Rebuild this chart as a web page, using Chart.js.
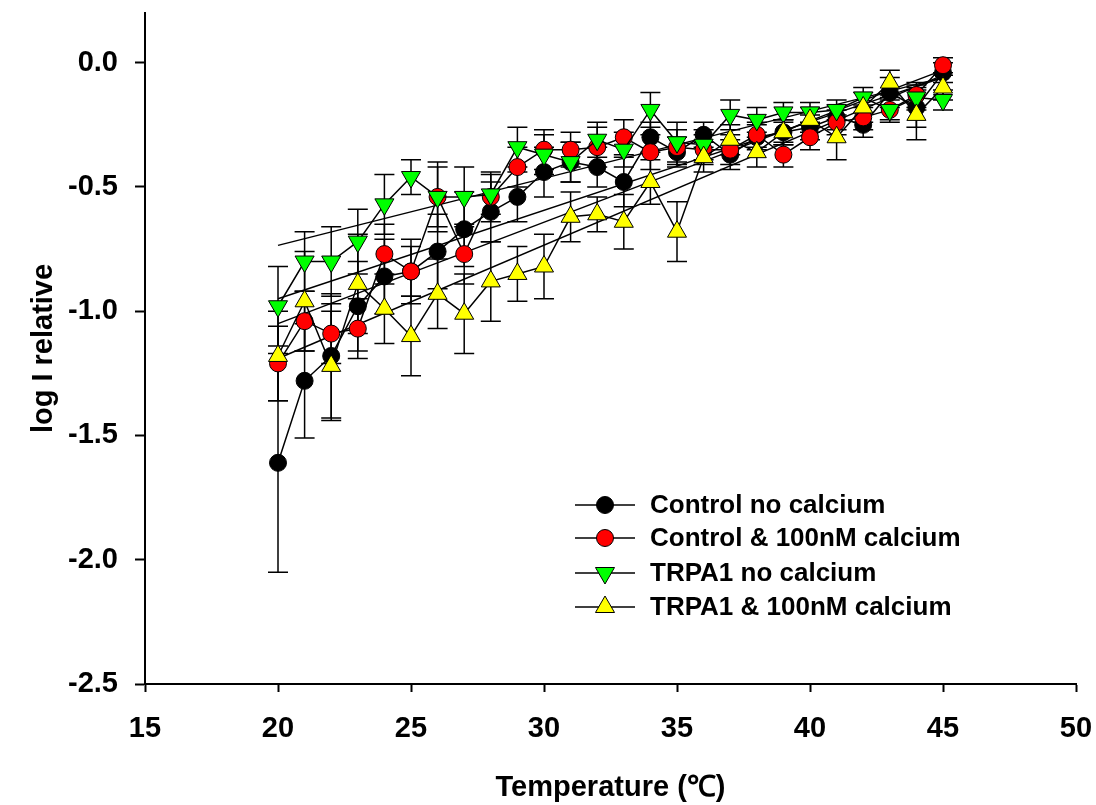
<!DOCTYPE html>
<html>
<head>
<meta charset="utf-8">
<script src="https://cdn.jsdelivr.net/npm/chart.js@4.4.1/dist/chart.umd.min.js"></script>
<style>
  html, body { margin: 0; padding: 0; background: #fff; }
  canvas { display: block; }
</style>
</head>
<body>
<canvas id="tempChart" width="1096" height="805"></canvas>
<script>
// Data
const temps = [20, 21, 22, 23, 24, 25, 26, 27, 28, 29, 30, 31, 32, 33, 34, 35, 36, 37, 38, 39, 40, 41, 42, 43, 44, 45];

const controlNoCa    = [-1.61, -1.28, -1.18, -0.98, -0.86, -0.84, -0.76, -0.67, -0.60, -0.54, -0.44, -0.40, -0.42, -0.48, -0.30, -0.36, -0.29, -0.37, -0.30, -0.28, -0.26, -0.22, -0.25, -0.12, -0.18, -0.04];
const controlNoCaErr = [0.44, 0.23, 0.25, 0.18, 0.15, 0.13, 0.15, 0.15, 0.12, 0.10, 0.10, 0.08, 0.08, 0.10, 0.06, 0.06, 0.05, 0.06, 0.05, 0.05, 0.05, 0.05, 0.05, 0.06, 0.08, 0.04];

const controlCa      = [-1.21, -1.04, -1.09, -1.07, -0.77, -0.84, -0.54, -0.77, -0.54, -0.42, -0.35, -0.35, -0.34, -0.30, -0.36, -0.34, -0.35, -0.35, -0.29, -0.37, -0.30, -0.24, -0.22, -0.19, -0.13, -0.01];
const controlCaErr   = [0.15, 0.12, 0.12, 0.12, 0.12, 0.10, 0.12, 0.12, 0.10, 0.08, 0.08, 0.07, 0.08, 0.07, 0.07, 0.07, 0.06, 0.06, 0.05, 0.05, 0.05, 0.05, 0.05, 0.05, 0.05, 0.03];

const trpa1NoCa      = [-0.98, -0.80, -0.80, -0.72, -0.57, -0.46, -0.54, -0.54, -0.53, -0.34, -0.37, -0.40, -0.31, -0.35, -0.19, -0.32, -0.33, -0.21, -0.23, -0.20, -0.20, -0.19, -0.14, -0.19, -0.14, -0.15];
const trpa1NoCaErr   = [0.16, 0.12, 0.14, 0.13, 0.12, 0.07, 0.14, 0.12, 0.08, 0.08, 0.08, 0.08, 0.07, 0.07, 0.07, 0.08, 0.06, 0.06, 0.05, 0.04, 0.04, 0.04, 0.04, 0.04, 0.05, 0.04];

const trpa1Ca        = [-1.18, -0.96, -1.22, -0.89, -0.99, -1.10, -0.93, -1.01, -0.88, -0.85, -0.82, -0.62, -0.61, -0.64, -0.48, -0.68, -0.38, -0.31, -0.36, -0.28, -0.23, -0.30, -0.18, -0.08, -0.21, -0.10];
const trpa1CaErr     = [0.18, 0.20, 0.22, 0.20, 0.14, 0.16, 0.14, 0.16, 0.16, 0.11, 0.13, 0.10, 0.07, 0.11, 0.09, 0.12, 0.06, 0.06, 0.06, 0.05, 0.05, 0.09, 0.06, 0.05, 0.10, 0.05];

// Linear regression lines (end points)
const fitX              = [20, 45];
const fitControlNoCa    = [-1.05, -0.03];
const fitControlCa      = [-0.95, -0.06];
const fitTrpa1NoCa      = [-0.735, -0.06];
const fitTrpa1Ca        = [-1.19, -0.05];

const seriesLabels = ['Control no calcium', 'Control & 100nM calcium', 'TRPA1 no calcium', 'TRPA1 & 100nM calcium'];
const xTicks = [15, 20, 25, 30, 35, 40, 45, 50];
const yTicks = [-2.5, -2.0, -1.5, -1.0, -0.5, 0.0];

const FONT = 'Liberation Sans, Arial, Helvetica, sans-serif';

function toPoints(xs, ys) {
    return xs.map((x, i) => ({ x: x, y: ys[i] }));
}

function seriesDataset(label, values, errors, fill, style, rotation, radius, order) {
    return {
        label: label,
        data: toPoints(temps, values),
        errors: errors,
        showLine: true,
        borderColor: '#000',
        borderWidth: 1.5,
        pointStyle: style,
        pointRotation: rotation,
        pointRadius: radius,
        pointBackgroundColor: fill,
        pointBorderColor: '#000',
        pointBorderWidth: 1,
        order: order
    };
}

function fitDataset(values) {
    return {
        label: 'fit',
        data: toPoints(fitX, values),
        showLine: true,
        borderColor: '#000',
        borderWidth: 1.5,
        pointRadius: 0,
        isFit: true,
        order: 10
    };
}

const datasets = [
    seriesDataset(seriesLabels[0], controlNoCa, controlNoCaErr, '#000000', 'circle', 0, 8.5, 4),
    seriesDataset(seriesLabels[1], controlCa, controlCaErr, '#ff0000', 'circle', 0, 8.5, 3),
    seriesDataset(seriesLabels[2], trpa1NoCa, trpa1NoCaErr, '#00ff00', 'triangle', 180, 11, 2),
    seriesDataset(seriesLabels[3], trpa1Ca, trpa1CaErr, '#ffff00', 'triangle', 0, 11, 1),
    fitDataset(fitControlNoCa),
    fitDataset(fitControlCa),
    fitDataset(fitTrpa1NoCa),
    fitDataset(fitTrpa1Ca)
];

// Vertical error bars with caps
const errorBarPlugin = {
    id: 'errorBars',
    beforeDatasetsDraw(chart) {
        const ctx = chart.ctx;
        const xs = chart.scales.x, ys = chart.scales.y;
        const capHalf = 10;
        ctx.save();
        ctx.strokeStyle = '#000';
        ctx.lineWidth = 1.5;
        chart.data.datasets.forEach(ds => {
            if (!ds.errors) return;
            ds.data.forEach((p, i) => {
                const e = ds.errors[i];
                const px = xs.getPixelForValue(p.x);
                const top = ys.getPixelForValue(p.y + e);
                const bot = ys.getPixelForValue(p.y - e);
                ctx.beginPath();
                ctx.moveTo(px, top); ctx.lineTo(px, bot);
                ctx.moveTo(px - capHalf, top); ctx.lineTo(px + capHalf, top);
                ctx.moveTo(px - capHalf, bot); ctx.lineTo(px + capHalf, bot);
                ctx.stroke();
            });
        });
        ctx.restore();
    }
};

// Legend drawn inside the plot, line through marker
const legendPlugin = {
    id: 'insideLegend',
    afterDraw(chart) {
        const ctx = chart.ctx;
        const lineX0 = 575, lineX1 = 635, textX = 650;
        const rowY = [505, 538, 573, 607];
        ctx.save();
        chart.data.datasets.forEach((ds, i) => {
            if (ds.isFit) return;
            const y = rowY[i];
            ctx.strokeStyle = '#000';
            ctx.lineWidth = 1.5;
            ctx.beginPath();
            ctx.moveTo(lineX0, y); ctx.lineTo(lineX1, y);
            ctx.stroke();
            ctx.fillStyle = ds.pointBackgroundColor;
            ctx.strokeStyle = '#000';
            ctx.lineWidth = 1;
            Chart.helpers.drawPoint(ctx, {
                pointStyle: ds.pointStyle,
                rotation: ds.pointRotation,
                radius: ds.pointRadius,
                borderWidth: 1
            }, (lineX0 + lineX1) / 2, y);
            ctx.fillStyle = '#000';
            ctx.font = 'bold 26px ' + FONT;
            ctx.textBaseline = 'middle';
            ctx.textAlign = 'left';
            ctx.fillText(ds.label, textX, y + 1);
        });
        ctx.restore();
    }
};

const ctx = document.getElementById('tempChart').getContext('2d');
new Chart(ctx, {
    type: 'scatter',
    data: { datasets: datasets },
    plugins: [errorBarPlugin, legendPlugin],
    options: {
        responsive: false,
        animation: false,
        layout: { padding: { left: 0, right: 20, top: 13, bottom: 0 } },
        plugins: {
            legend: { display: false },
            tooltip: { enabled: false }
        },
        scales: {
            x: {
                type: 'linear',
                min: 15,
                max: 50,
                afterBuildTicks: scale => { scale.ticks = xTicks.map(v => ({ value: v })); },
                afterFit: scale => {
                    scale.height = 121;
                    scale.paddingLeft = 0;
                    scale.paddingRight = 0;
                },
                grid: { drawOnChartArea: false, drawTicks: true, tickLength: 8, tickWidth: 2, tickColor: '#000' },
                border: { display: true, color: '#000', width: 2 },
                ticks: {
                    color: '#000',
                    padding: 20,
                    maxRotation: 0,
                    font: { family: FONT, size: 29, weight: 'bold' }
                },
                title: {
                    display: true,
                    text: 'Temperature (℃)',
                    color: '#000',
                    padding: { top: 0, bottom: 0 },
                    font: { family: FONT, size: 29, weight: 'bold' }
                }
            },
            y: {
                type: 'linear',
                min: -2.5,
                max: 0.2,
                afterBuildTicks: scale => { scale.ticks = yTicks.map(v => ({ value: v })); },
                afterFit: scale => {
                    scale.width = 145;
                    scale.paddingTop = 0;
                    scale.paddingBottom = 0;
                },
                grid: { drawOnChartArea: false, drawTicks: true, tickLength: 10, tickWidth: 2, tickColor: '#000' },
                border: { display: true, color: '#000', width: 2 },
                ticks: {
                    color: '#000',
                    padding: 17,
                    callback: v => v.toFixed(1),
                    font: { family: FONT, size: 29, weight: 'bold' }
                },
                title: {
                    display: true,
                    text: 'log I relative',
                    color: '#000',
                    padding: { top: 27, bottom: 0 },
                    font: { family: FONT, size: 29, weight: 'bold' }
                }
            }
        }
    }
});
</script>
</body>
</html>
